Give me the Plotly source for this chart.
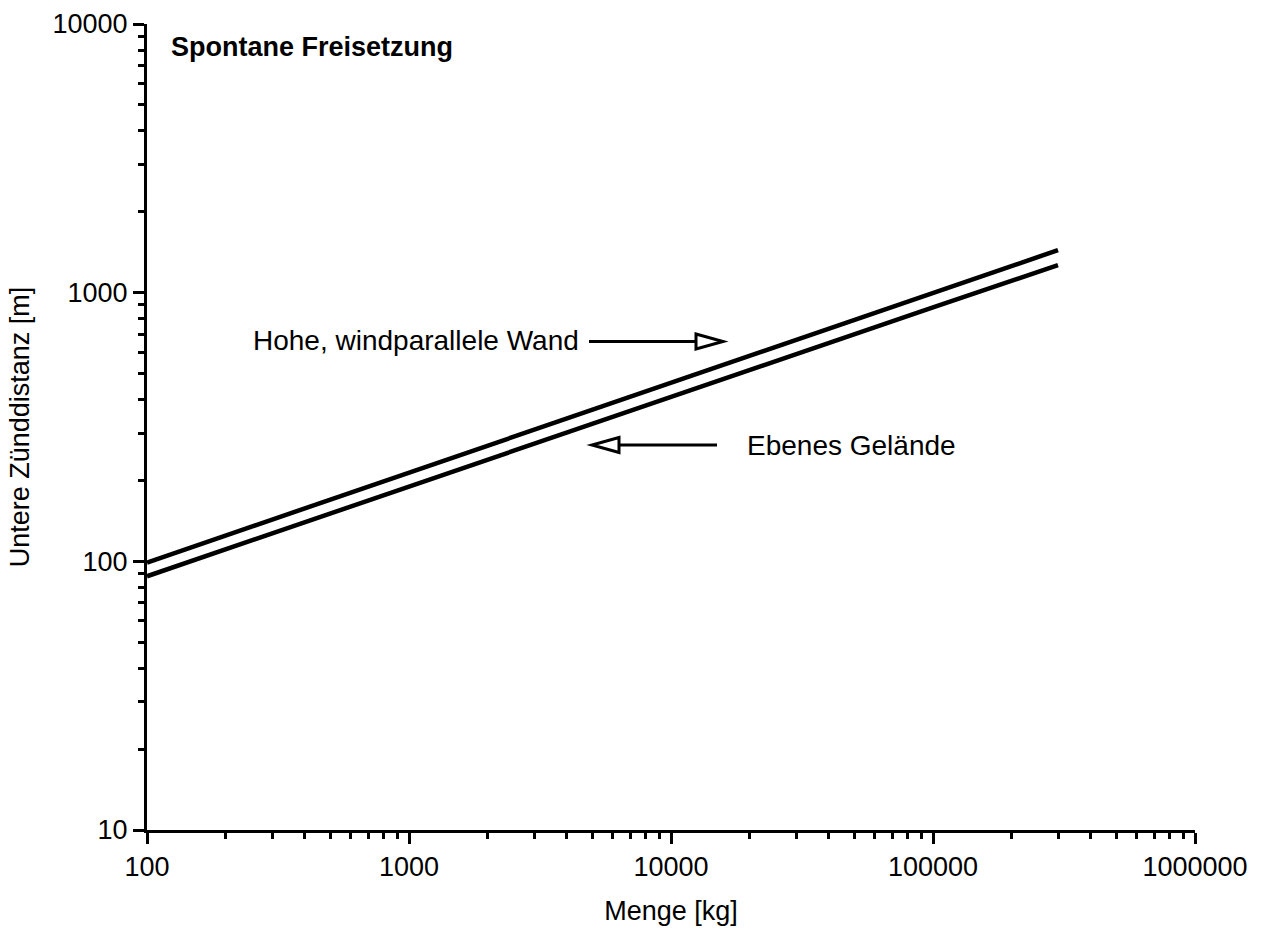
import plotly.graph_objects as go

# Data (log-log)
menge = [100, 1000, 10000, 100000, 300000]
hohe_wand = [99, 214, 461, 993, 1440]
ebenes_gelaende = [88, 190, 409, 882, 1265]

x_tickvals = [100, 1000, 10000, 100000, 1000000]
x_ticktext = ["100", "1000", "10000", "100000", "1000000"]
y_tickvals = [10, 100, 1000, 10000]
y_ticktext = ["10", "100", "1000", "10000"]
x_minor = [m * d for d in [100, 1000, 10000, 100000] for m in range(2, 10)]
y_minor = [m * d for d in [10, 100, 1000] for m in range(2, 10)]

FONT = "Liberation Sans, Arial, Helvetica, sans-serif"

fig = go.Figure()
fig.add_trace(go.Scatter(x=menge, y=hohe_wand, mode="lines",
                         line=dict(color="black", width=4.5), showlegend=False))
fig.add_trace(go.Scatter(x=menge, y=ebenes_gelaende, mode="lines",
                         line=dict(color="black", width=4.5), showlegend=False))

W, H = 1267, 931
L, R, T, B = 147, 72, 24, 101
pw, ph = W - L - R, H - T - B

def px(x):
    return (x - L) / pw

def py(y):
    return (H - B - y) / ph

shapes = []
# Upper arrow (pointing right)
ya = py(341.5)
shapes.append(dict(type="line", xref="paper", yref="paper", x0=px(589), x1=px(696), y0=ya, y1=ya,
                   line=dict(color="black", width=3)))
shapes.append(dict(type="path", xref="paper", yref="paper",
                   path=f"M {px(696)} {py(334)} L {px(723)} {py(341.5)} L {px(696)} {py(349)} Z",
                   fillcolor="white", line=dict(color="black", width=3)))
# Lower arrow (pointing left)
yb = py(445)
shapes.append(dict(type="line", xref="paper", yref="paper", x0=px(619), x1=px(717), y0=yb, y1=yb,
                   line=dict(color="black", width=3)))
shapes.append(dict(type="path", xref="paper", yref="paper",
                   path=f"M {px(619)} {py(437.5)} L {px(592)} {py(445)} L {px(619)} {py(452.5)} Z",
                   fillcolor="white", line=dict(color="black", width=3)))

annotations = [
    dict(text="<b>Spontane Freisetzung</b>", xref="paper", yref="paper", x=px(169), y=py(47),
         xanchor="left", yanchor="middle", showarrow=False, font=dict(size=27, color="black", family=FONT)),
    dict(text="Hohe, windparallele Wand", xref="paper", yref="paper", x=px(581), y=py(340),
         xanchor="right", yanchor="middle", showarrow=False, font=dict(size=28, color="black", family=FONT)),
    dict(text="Ebenes Gelände", xref="paper", yref="paper", x=px(745), y=py(445),
         xanchor="left", yanchor="middle", showarrow=False, font=dict(size=28, color="black", family=FONT)),
]

fig.update_layout(
    width=W, height=H,
    margin=dict(l=L, r=R, t=T, b=B),
    plot_bgcolor="white", paper_bgcolor="white",
    font=dict(family=FONT, color="black", size=27),
    shapes=shapes, annotations=annotations,
    xaxis=dict(type="log", range=[2, 6], showgrid=False, zeroline=False, automargin=False,
               showline=True, linecolor="black", linewidth=3,
               ticks="outside", ticklen=11, tickwidth=3, tickcolor="black",
               tickvals=x_tickvals, ticktext=x_ticktext,
               tickfont=dict(size=27),
               minor=dict(tickvals=x_minor, ticks="outside", ticklen=6, tickwidth=3,
                          tickcolor="black", showgrid=False),
               title=dict(text="Menge [kg]", font=dict(size=27), standoff=20)),
    yaxis=dict(type="log", range=[1, 4], showgrid=False, zeroline=False, automargin=False,
               showline=True, linecolor="black", linewidth=3,
               ticks="outside", ticklen=11, tickwidth=3, tickcolor="black",
               tickvals=y_tickvals, ticktext=y_ticktext,
               tickfont=dict(size=27),
               minor=dict(tickvals=y_minor, ticks="outside", ticklen=6, tickwidth=3,
                          tickcolor="black", showgrid=False),
               title=dict(text="Untere Zünddistanz [m]", font=dict(size=27), standoff=16)),
)

fig.write_html("out.html")
